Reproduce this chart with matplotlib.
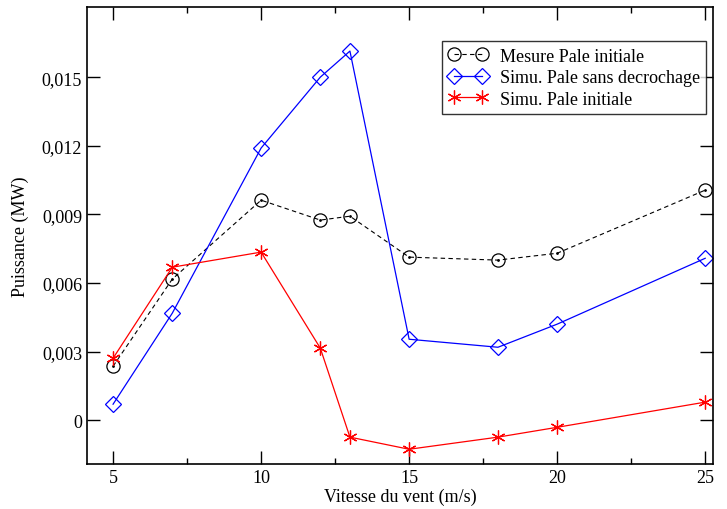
import matplotlib.pyplot as plt
from matplotlib.ticker import FuncFormatter, MultipleLocator, FixedLocator

vitesse = [5, 7, 10, 12, 13, 15, 18, 20, 25]
mesure = [0.00236, 0.00617, 0.00962, 0.00875, 0.00892, 0.00713, 0.00700, 0.00730, 0.01006]
simu_sans = [0.00070, 0.00468, 0.01190, 0.01500, 0.01614, 0.00354, 0.00319, 0.00420, 0.00708]
simu_init = [0.00271, 0.00669, 0.00735, 0.00315, -0.00074, -0.00127, -0.00074, -0.00031, 0.00079]
y_ticks = [0, 0.003, 0.006, 0.009, 0.012, 0.015]

plt.rcParams["font.family"] = ["Liberation Serif", "DejaVu Serif"]

fig = plt.figure(figsize=(7.27, 5.10), dpi=100)
ax = fig.add_axes([0.1197, 0.088, 0.8613, 0.896])

ax.plot(vitesse, mesure, color="black", ls=(0, (4, 3)), lw=0.8,
        marker="o", ms=9.5, mfc="none", mec="black", mew=0.9,
        label="Mesure Pale initiale")
ax.plot(vitesse, mesure, ls="none", marker=".", ms=2, color="black")
ax.plot(vitesse, simu_sans, color="blue", lw=0.9,
        marker="D", ms=8, mfc="none", mec="blue", mew=0.9,
        label="Simu. Pale sans decrochage")
ax.plot(vitesse, simu_init, color="red", lw=0.9,
        marker=(6, 2, 0), ms=10, mec="red", mew=0.9,
        label="Simu. Pale initiale")

ax.set_xlim(4.12, 25.27)
ax.set_ylim(-0.00192, 0.01806)
ax.xaxis.set_major_locator(MultipleLocator(5))
ax.xaxis.set_minor_locator(MultipleLocator(2.5))
ax.yaxis.set_major_locator(FixedLocator(y_ticks))
ax.yaxis.set_major_formatter(FuncFormatter(
    lambda v, p: "0" if abs(v) < 1e-9 else f"{v:.3f}".replace(".", ",")))
ax.tick_params(which="both", direction="in", top=True, right=True,
               labelsize=13, colors="black")
ax.tick_params(which="major", length=9.5, width=1)
ax.tick_params(which="minor", length=4.5, width=1)
for s in ax.spines.values():
    s.set_linewidth(1.2)

ax.set_xlabel("Vitesse du vent (m/s)", fontsize=13, labelpad=1)
ax.set_ylabel("Puissance (MW)", fontsize=13, labelpad=9)

leg = ax.legend(loc="upper left", bbox_to_anchor=(0.567, 0.925), fontsize=13,
                frameon=True, fancybox=False, edgecolor="black", numpoints=2,
                handlelength=2.15, handletextpad=0.7, borderpad=0.35,
                labelspacing=0.25, borderaxespad=0)
leg.get_frame().set_linewidth(1.0)

fig.savefig("out.png", dpi=100)
